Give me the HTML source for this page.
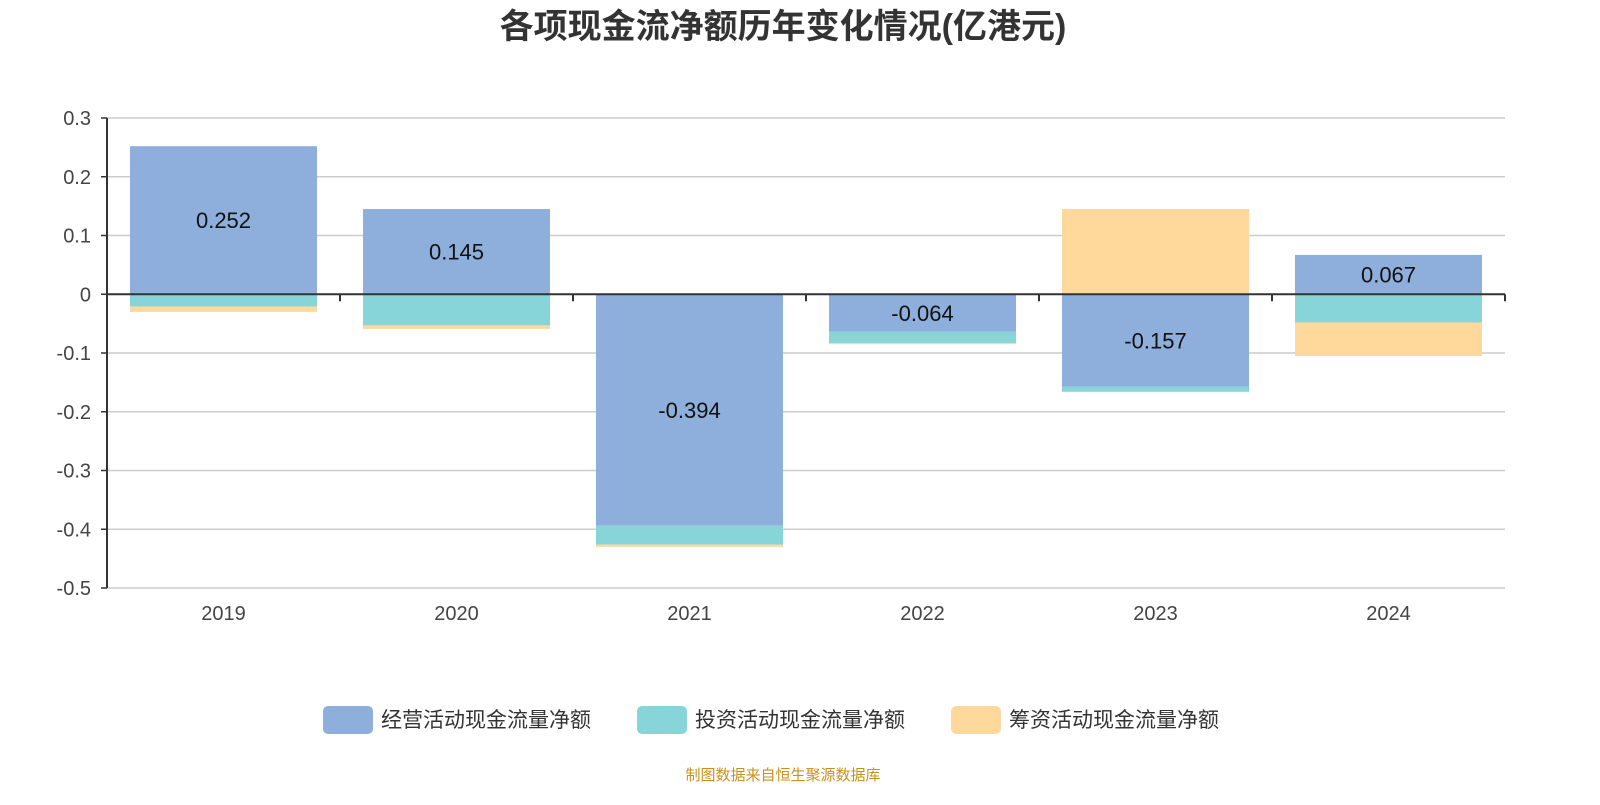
<!DOCTYPE html>
<html><head><meta charset="utf-8"><style>
body{margin:0;background:#fff;font-family:"Liberation Sans","Noto Sans CJK SC",sans-serif;}
svg text{font-family:"Liberation Sans","Noto Sans CJK SC",sans-serif;}
</style></head><body>
<svg id="chart" width="1600" height="800" xmlns="http://www.w3.org/2000/svg">
<text x="783" y="38" text-anchor="middle" font-size="34" font-weight="bold" fill="#333">各项现金流净额历年变化情况(亿港元)</text>
<g id="grid"></g><g id="bars"></g><g id="axes"></g><g id="labels"></g>
<g id="legend"></g>
<text x="783" y="780" text-anchor="middle" font-size="15" fill="#c8911d">制图数据来自恒生聚源数据库</text>
</svg>
<script>
const categories=["2019","2020","2021","2022","2023","2024"];
const operating=[0.252,0.145,-0.394,-0.064,-0.157,0.067];
const investing=[-0.021,-0.053,-0.032,-0.019,-0.009,-0.048];
const financing=[-0.009,-0.006,-0.004,-0.002,0.145,-0.057];
const yTicks=[0.3,0.2,0.1,0,-0.1,-0.2,-0.3,-0.4,-0.5];
const seriesNames=["经营活动现金流量净额","投资活动现金流量净额","筹资活动现金流量净额"];
const colors=["#8eaedb","#87d5d8","#fed99b"];
const NS="http://www.w3.org/2000/svg";
const L=107,R=1505,T=118,B=588,yMax=0.3,yMin=-0.5;
const y=v=>T+(yMax-v)/(yMax-yMin)*(B-T);
const band=(R-L)/categories.length;
const xc=i=>L+band*(i+0.5);
const bw=187;
function mk(tag,attrs,parent){const e=document.createElementNS(NS,tag);for(const k in attrs)e.setAttribute(k,attrs[k]);document.getElementById(parent).appendChild(e);return e;}
yTicks.forEach(t=>{
  const l=mk('line',{x1:L,x2:R,y1:y(t),y2:y(t),stroke:'#ccc','stroke-width':1.5},'grid');
  
  
  const tx=mk('text',{x:L-16,y:y(t)+7,'text-anchor':'end','font-size':20,fill:'#444'},'axes');
  tx.textContent=String(t);
  
  
  const tk=mk('line',{x1:L-6,x2:L,y1:y(t),y2:y(t),stroke:'#333','stroke-width':1.5},'axes');
  
  
});
const ya=mk('line',{x1:L,x2:L,y1:T,y2:B,stroke:'#333','stroke-width':2},'axes');


const xa=mk('line',{x1:L,x2:R,y1:y(0),y2:y(0),stroke:'#333','stroke-width':2},'axes');


for(let i=0;i<=categories.length;i++){
  const tk=mk('line',{x1:L+band*i,x2:L+band*i,y1:y(0),y2:y(0)+7,stroke:'#333','stroke-width':2},'axes');
  
  
}
const series=[operating,investing,financing];
categories.forEach((c,i)=>{
  let pos=0,neg=0;
  series.forEach((s,k)=>{
    const v=s[i];let y0,y1;
    if(v>=0){y0=pos;y1=pos+v;pos=y1;}else{y0=neg;y1=neg+v;neg=y1;}
    const r=mk('rect',{x:xc(i)-bw/2,y:Math.min(y(y0),y(y1)),width:bw,height:Math.abs(y(y1)-y(y0)),fill:colors[k]},'bars');
    
    
  });
  const v=operating[i];
  const lt=mk('text',{x:xc(i),y:y(v/2)+8,'text-anchor':'middle','font-size':22,fill:'#111'},'labels');
  lt.textContent=v.toFixed(3);
  
  
  const xt=mk('text',{x:xc(i),y:620,'text-anchor':'middle','font-size':20,fill:'#444'},'axes');
  xt.textContent=c;
  
  
});
const lx=[323,637,951];
seriesNames.forEach((n,k)=>{
  const r=mk('rect',{x:lx[k],y:706,width:50,height:28,rx:5,fill:colors[k]},'legend');
  
  
  const t=mk('text',{x:lx[k]+58,y:727,'font-size':21,fill:'#333'},'legend');
  t.textContent=n;
  
  
});
</script>
</body></html>
